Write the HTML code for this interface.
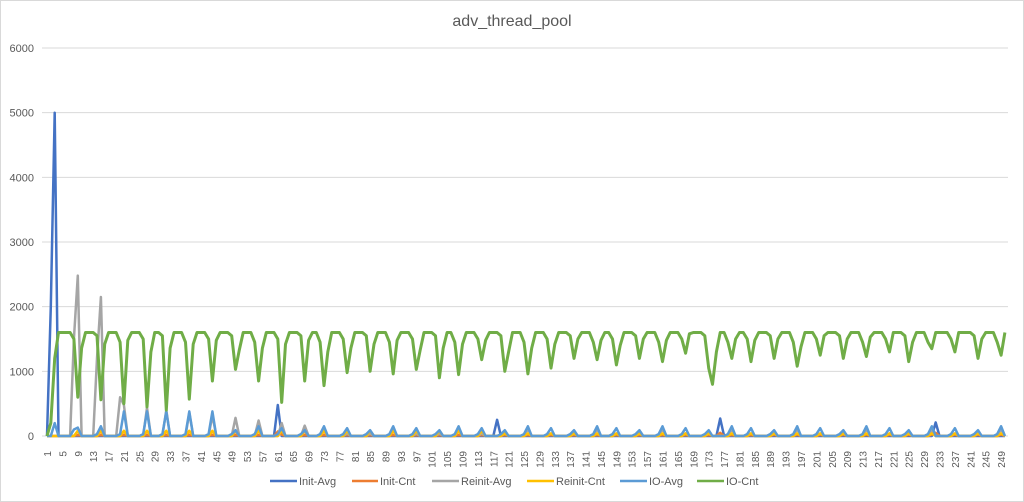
<!DOCTYPE html>
<html><head><meta charset="utf-8"><style>
body{margin:0;background:#fff;}
svg{display:block;font-family:"Liberation Sans",sans-serif;}
</style></head><body>
<svg id="c" width="1024" height="502" xmlns="http://www.w3.org/2000/svg">
<rect x="0.5" y="0.5" width="1023" height="501" fill="#fff" stroke="#d9d9d9"/>
<text x="512" y="26" text-anchor="middle" font-size="16" fill="#595959">adv_thread_pool</text>
<g id="grid" stroke="#d9d9d9" stroke-width="1"></g>
<g id="ylab" font-size="11" fill="#595959" text-anchor="end"></g>
<g id="xlab" font-size="10" fill="#595959"></g>
<g id="series" fill="none" stroke-width="2.5" stroke-linejoin="round"></g>
<g font-size="11" fill="#595959">
<line x1="270" y1="481" x2="297" y2="481" stroke="#4472c4" stroke-width="2.5"/><text x="299" y="485">Init-Avg</text>
<line x1="352" y1="481" x2="378" y2="481" stroke="#ed7d31" stroke-width="2.5"/><text x="380" y="485">Init-Cnt</text>
<line x1="432" y1="481" x2="459" y2="481" stroke="#a5a5a5" stroke-width="2.5"/><text x="461" y="485">Reinit-Avg</text>
<line x1="527" y1="481" x2="554" y2="481" stroke="#ffc000" stroke-width="2.5"/><text x="556" y="485">Reinit-Cnt</text>
<line x1="620" y1="481" x2="647" y2="481" stroke="#5b9bd5" stroke-width="2.5"/><text x="649" y="485">IO-Avg</text>
<line x1="697" y1="481" x2="724" y2="481" stroke="#70ad47" stroke-width="2.5"/><text x="726" y="485">IO-Cnt</text>
</g>
</svg>
<script>
var NS="http://www.w3.org/2000/svg";
function el(t,a,p,txt){var e=document.createElementNS(NS,t);for(var k in a)e.setAttribute(k,a[k]);if(txt!==undefined)e.textContent=txt;document.getElementById(p).appendChild(e);return e;}
var y0=436,sc=(436-48)/6000,L=42,R=1008,N=250;
function X(i){return 47+(i-1)*3.847;}
function Y(v){return y0-v*sc;}
for(var g=0;g<=6;g++){var yy=Y(g*1000);el("line",{x1:L,x2:R,y1:yy,y2:yy},"grid");el("text",{x:34,y:yy+4},"ylab",g*1000);}
for(var i=1;i<=N;i+=4){var x=X(i);el("text",{x:0,y:0,transform:"translate("+(x+4)+",451) rotate(-90)","text-anchor":"end"},"xlab",i);}
var dips=[600,560,500,450,400,570,850,1030,850,520,850,780,980,1000,960,1030,900,950,1180,1000,960,1050,1200,1180,1100,1200,1150,1280,1050,1200,1150,1200,1080,1250,1200,1230,1300,1150,1350,1300,1200,1250,1150,1300,1250,1320,1200,1450,1150,1260];
var io=[],ia=[],ra=[],ic=[],rc=[],oa=[];
for(i=1;i<=N;i++){io[i]=1600;ia[i]=0;ra[i]=0;ic[i]=0;rc[i]=0;oa[i]=0;}
io[1]=0;io[2]=200;io[3]=1200;
var k=0;
for(var d=9;d<=N;d+=5.85){var c=Math.round(d);var v=dips[k%dips.length];k++;
 io[c]=v; if(c-1>3)io[c-1]=Math.min(io[c-1],1450+(k%3)*50); if(c+1<=N)io[c+1]=Math.min(1600,Math.max(v+300,1300+(k%4)*60));
 oa[c]=(k>=3&&k<=7)?380:(k<3?150:150-(k%3)*30); if(c-1>0)oa[c-1]=30;
 ra[c]=k<12?Math.max(150,600-k*40):(k%3==0?110:40);
 rc[c]=k<20?80:40; ic[c]=20;}
ia[1]=0;ia[2]=2000;ia[3]=5000;ia[4]=0;
oa[3]=200;oa[9]=130;oa[8]=100;
ra[8]=1500;ra[9]=2480;ra[10]=0;ra[14]=1200;ra[15]=2150;ra[16]=0;ra[20]=600;
ia[61]=480;ia[118]=250;ia[176]=270;ia[232]=210;ic[61]=70;ic[176]=50;ic[232]=50;
io[250]=1600;io[174]=800;io[175]=1300;
function draw(a,col,w){var p=[];for(var i=1;i<=N;i++)p.push(X(i).toFixed(1)+","+Y(a[i]).toFixed(1));var e=el("polyline",{points:p.join(" "),stroke:col},"series");if(w)e.setAttribute("stroke-width",w);}
draw(ia,"#4472c4");draw(ic,"#ed7d31");draw(ra,"#a5a5a5");draw(rc,"#ffc000");draw(oa,"#5b9bd5");draw(io,"#70ad47",3);
</script>
</body></html>
